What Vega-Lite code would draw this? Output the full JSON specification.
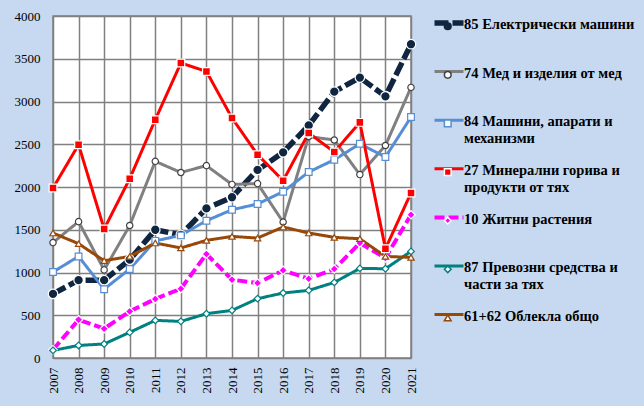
{
  "$schema": "https://vega.github.io/schema/vega-lite/v6.json",
  "width": 358,
  "height": 342,
  "autosize": "none",
  "padding": {"left": 53, "top": 16, "right": 233, "bottom": 48},
  "background": "#c6d9f1",
  "config": {
    "font": "Liberation Serif",
    "view": {"fill": "white", "stroke": "#808080", "strokeWidth": 1.5},
    "axis": {"labelFont": "Liberation Serif", "labelFontSize": 13, "labelColor": "black", "ticks": false, "grid": true, "gridColor": "#808080", "gridWidth": 1.5, "domain": false, "title": null}
  },
  "data": {
    "values": [
      {"year": 2007, "s": "85 Електрически машини", "v": 750},
      {"year": 2008, "s": "85 Електрически машини", "v": 910},
      {"year": 2009, "s": "85 Електрически машини", "v": 910},
      {"year": 2010, "s": "85 Електрически машини", "v": 1150},
      {"year": 2011, "s": "85 Електрически машини", "v": 1500},
      {"year": 2012, "s": "85 Електрически машини", "v": 1440},
      {"year": 2013, "s": "85 Електрически машини", "v": 1750},
      {"year": 2014, "s": "85 Електрически машини", "v": 1880},
      {"year": 2015, "s": "85 Електрически машини", "v": 2200},
      {"year": 2016, "s": "85 Електрически машини", "v": 2405},
      {"year": 2017, "s": "85 Електрически машини", "v": 2720},
      {"year": 2018, "s": "85 Електрически машини", "v": 3115},
      {"year": 2019, "s": "85 Електрически машини", "v": 3280},
      {"year": 2020, "s": "85 Електрически машини", "v": 3060},
      {"year": 2021, "s": "85 Електрически машини", "v": 3670},
      {"year": 2007, "s": "74 Мед и изделия от мед", "v": 1350},
      {"year": 2008, "s": "74 Мед и изделия от мед", "v": 1595},
      {"year": 2009, "s": "74 Мед и изделия от мед", "v": 1030},
      {"year": 2010, "s": "74 Мед и изделия от мед", "v": 1550},
      {"year": 2011, "s": "74 Мед и изделия от мед", "v": 2300},
      {"year": 2012, "s": "74 Мед и изделия от мед", "v": 2170},
      {"year": 2013, "s": "74 Мед и изделия от мед", "v": 2250},
      {"year": 2014, "s": "74 Мед и изделия от мед", "v": 2030},
      {"year": 2015, "s": "74 Мед и изделия от мед", "v": 2040},
      {"year": 2016, "s": "74 Мед и изделия от мед", "v": 1590},
      {"year": 2017, "s": "74 Мед и изделия от мед", "v": 2590},
      {"year": 2018, "s": "74 Мед и изделия от мед", "v": 2550},
      {"year": 2019, "s": "74 Мед и изделия от мед", "v": 2145},
      {"year": 2020, "s": "74 Мед и изделия от мед", "v": 2485},
      {"year": 2021, "s": "74 Мед и изделия от мед", "v": 3165},
      {"year": 2007, "s": "84 Машини, апарати и механизми", "v": 1006},
      {"year": 2008, "s": "84 Машини, апарати и механизми", "v": 1188},
      {"year": 2009, "s": "84 Машини, апарати и механизми", "v": 805},
      {"year": 2010, "s": "84 Машини, апарати и механизми", "v": 1041},
      {"year": 2011, "s": "84 Машини, апарати и механизми", "v": 1370},
      {"year": 2012, "s": "84 Машини, апарати и механизми", "v": 1434},
      {"year": 2013, "s": "84 Машини, апарати и механизми", "v": 1606},
      {"year": 2014, "s": "84 Машини, апарати и механизми", "v": 1734},
      {"year": 2015, "s": "84 Машини, апарати и механизми", "v": 1801},
      {"year": 2016, "s": "84 Машини, апарати и механизми", "v": 1945},
      {"year": 2017, "s": "84 Машини, апарати и механизми", "v": 2175},
      {"year": 2018, "s": "84 Машини, апарати и механизми", "v": 2319},
      {"year": 2019, "s": "84 Машини, апарати и механизми", "v": 2505},
      {"year": 2020, "s": "84 Машини, апарати и механизми", "v": 2350},
      {"year": 2021, "s": "84 Машини, апарати и механизми", "v": 2818},
      {"year": 2007, "s": "27 Минерални горива и продукти от тях", "v": 1988},
      {"year": 2008, "s": "27 Минерални горива и продукти от тях", "v": 2495},
      {"year": 2009, "s": "27 Минерални горива и продукти от тях", "v": 1509},
      {"year": 2010, "s": "27 Минерални горива и продукти от тях", "v": 2097},
      {"year": 2011, "s": "27 Минерални горива и продукти от тях", "v": 2787},
      {"year": 2012, "s": "27 Минерални горива и продукти от тях", "v": 3450},
      {"year": 2013, "s": "27 Минерални горива и продукти от тях", "v": 3352},
      {"year": 2014, "s": "27 Минерални горива и продукти от тях", "v": 2807},
      {"year": 2015, "s": "27 Минерални горива и продукти от тях", "v": 2378},
      {"year": 2016, "s": "27 Минерални горива и продукти от тях", "v": 2074},
      {"year": 2017, "s": "27 Минерални горива и продукти от тях", "v": 2632},
      {"year": 2018, "s": "27 Минерални горива и продукти от тях", "v": 2409},
      {"year": 2019, "s": "27 Минерални горива и продукти от тях", "v": 2756},
      {"year": 2020, "s": "27 Минерални горива и продукти от тях", "v": 1278},
      {"year": 2021, "s": "27 Минерални горива и продукти от тях", "v": 1930},
      {"year": 2007, "s": "10 Житни растения", "v": 97},
      {"year": 2008, "s": "10 Житни растения", "v": 448},
      {"year": 2009, "s": "10 Житни растения", "v": 343},
      {"year": 2010, "s": "10 Житни растения", "v": 545},
      {"year": 2011, "s": "10 Житни растения", "v": 690},
      {"year": 2012, "s": "10 Житни растения", "v": 810},
      {"year": 2013, "s": "10 Житни растения", "v": 1216},
      {"year": 2014, "s": "10 Житни растения", "v": 916},
      {"year": 2015, "s": "10 Житни растения", "v": 877},
      {"year": 2016, "s": "10 Житни растения", "v": 1025},
      {"year": 2017, "s": "10 Житни растения", "v": 927},
      {"year": 2018, "s": "10 Житни растения", "v": 1041},
      {"year": 2019, "s": "10 Житни растения", "v": 1345},
      {"year": 2020, "s": "10 Житни растения", "v": 1170},
      {"year": 2021, "s": "10 Житни растения", "v": 1676},
      {"year": 2007, "s": "87 Превозни средства и части за тях", "v": 89},
      {"year": 2008, "s": "87 Превозни средства и части за тях", "v": 147},
      {"year": 2009, "s": "87 Превозни средства и части за тях", "v": 164},
      {"year": 2010, "s": "87 Превозни средства и части за тях", "v": 300},
      {"year": 2011, "s": "87 Превозни средства и части за тях", "v": 440},
      {"year": 2012, "s": "87 Превозни средства и части за тях", "v": 428},
      {"year": 2013, "s": "87 Превозни средства и части за тях", "v": 518},
      {"year": 2014, "s": "87 Превозни средства и части за тях", "v": 557},
      {"year": 2015, "s": "87 Превозни средства и части за тях", "v": 694},
      {"year": 2016, "s": "87 Превозни средства и части за тях", "v": 760},
      {"year": 2017, "s": "87 Превозни средства и части за тях", "v": 791},
      {"year": 2018, "s": "87 Превозни средства и части за тях", "v": 884},
      {"year": 2019, "s": "87 Превозни средства и части за тях", "v": 1048},
      {"year": 2020, "s": "87 Превозни средства и части за тях", "v": 1044},
      {"year": 2021, "s": "87 Превозни средства и части за тях", "v": 1247},
      {"year": 2007, "s": "61+62 Облекла общо", "v": 1462},
      {"year": 2008, "s": "61+62 Облекла общо", "v": 1337},
      {"year": 2009, "s": "61+62 Облекла общо", "v": 1138},
      {"year": 2010, "s": "61+62 Облекла общо", "v": 1188},
      {"year": 2011, "s": "61+62 Облекла общо", "v": 1345},
      {"year": 2012, "s": "61+62 Облекла общо", "v": 1287},
      {"year": 2013, "s": "61+62 Облекла общо", "v": 1376},
      {"year": 2014, "s": "61+62 Облекла общо", "v": 1422},
      {"year": 2015, "s": "61+62 Облекла общо", "v": 1403},
      {"year": 2016, "s": "61+62 Облекла общо", "v": 1532},
      {"year": 2017, "s": "61+62 Облекла общо", "v": 1462},
      {"year": 2018, "s": "61+62 Облекла общо", "v": 1411},
      {"year": 2019, "s": "61+62 Облекла общо", "v": 1395},
      {"year": 2020, "s": "61+62 Облекла общо", "v": 1188},
      {"year": 2021, "s": "61+62 Облекла общо", "v": 1177}
    ]
  },
  "encoding": {
    "x": {"field": "year", "type": "ordinal", "scale": {"type": "point", "padding": 0}, "axis": {"labelAngle": -90, "labelPadding": 9}},
    "y": {"field": "v", "type": "quantitative", "scale": {"domain": [0, 4000]}, "axis": {"values": [0, 500, 1000, 1500, 2000, 2500, 3000, 3500, 4000], "format": "d", "labelPadding": 13}}
  },
  "layer": [
    {
      "mark": {"type": "line", "strokeJoin": "round"},
      "encoding": {
        "color": {
          "field": "s", "type": "nominal",
          "scale": {
            "domain": ["85 Електрически машини", "74 Мед и изделия от мед", "84 Машини, апарати и механизми", "27 Минерални горива и продукти от тях", "10 Житни растения", "87 Превозни средства и части за тях", "61+62 Облекла общо"],
            "range": ["#10253f", "#808080", "#558ed5", "#ff0000", "#ff00ff", "#008080", "#984807"]
          },
          "legend": {
            "orient": "none", "legendX": 396, "legendY": 7, "title": null,
            "symbolType": "stroke", "symbolSize": 841, "symbolStrokeWidth": 1.2,
            "labelFont": "Liberation Serif", "labelFontSize": 14.5, "labelFontWeight": "bold", "labelColor": "black",
            "labelBaseline": "top", "labelOffset": 1, "labelLimit": 400, "rowPadding": 16.6,
            "labelExpr": "[' ', ' ']",
            "encoding": {
              "labels": {"dy": {"value": -8}, "lineHeight": {"value": 17}},
              "symbols": {"strokeWidth": {"value": {"expr": "scale('strokeWidth', datum.value)"}}}
            }
          }
        },
        "strokeDash": {
          "field": "s", "type": "nominal",
          "scale": {
            "domain": ["85 Електрически машини", "74 Мед и изделия от мед", "84 Машини, апарати и механизми", "27 Минерални горива и продукти от тях", "10 Житни растения", "87 Превозни средства и части за тях", "61+62 Облекла общо"],
            "range": [[14, 4], [1, 0], [1, 0], [1, 0], [10, 4], [1, 0], [1, 0]]
          }
        },
        "strokeWidth": {
          "field": "s", "type": "nominal", "legend": null,
          "scale": {
            "type": "ordinal",
            "domain": ["61+62 Облекла общо", "87 Превозни средства и части за тях", "10 Житни растения", "27 Минерални горива и продукти от тях", "84 Машини, апарати и механизми", "74 Мед и изделия от мед", "85 Електрически машини"],
            "range": [3, 3, 4, 3, 3, 3, 5.5]
          }
        }
      }
    },
    {
      "mark": {"type": "point", "filled": true, "opacity": 1, "strokeWidth": 1.2},
      "encoding": {
        "fill": {
          "field": "s", "type": "nominal",
          "sort": ["85 Електрически машини", "74 Мед и изделия от мед", "84 Машини, апарати и механизми", "27 Минерални горива и продукти от тях", "10 Житни растения", "87 Превозни средства и части за тях", "61+62 Облекла общо"],
          "scale": {"range": ["#10253f", "white", "white", "#ff0000", "#ff00ff", "white", "white"]},
          "legend": {
            "orient": "none", "legendX": 387.5, "legendY": 3, "title": null,
            "symbolSize": 841, "symbolStrokeWidth": 1.2,
            "labelFont": "Liberation Serif", "labelFontSize": 14.5, "labelFontWeight": "bold", "labelColor": "black",
            "labelBaseline": "top", "labelOffset": 9, "labelLimit": 400, "rowPadding": 16.6,
            "labelExpr": "datum.label == '84 Машини, апарати и механизми' ? ['84 Машини, апарати и', 'механизми'] : datum.label == '27 Минерални горива и продукти от тях' ? ['27 Минерални горива и', 'продукти от тях'] : datum.label == '87 Превозни средства и части за тях' ? ['87 Превозни средства и', 'части за тях'] : [datum.label, ' ']",
            "encoding": {
              "labels": {"dy": {"value": -8}, "lineHeight": {"value": 17}},
              "symbols": {
                "size": {"value": 45},
                "strokeWidth": {"value": 1.5},
                "shape": {"value": {"expr": "scale('shape', datum.value)"}},
                "fill": {"value": {"expr": "datum.value == '85 Електрически машини' ? 'white' : scale('fill', datum.value)"}},
                "stroke": {"value": {"expr": "datum.value == '85 Електрически машини' ? '#10253f' : scale('stroke', datum.value)"}}
              }
            }
          }
        },
        "stroke": {
          "field": "s", "type": "nominal", "legend": null,
          "sort": ["85 Електрически машини", "74 Мед и изделия от мед", "84 Машини, апарати и механизми", "27 Минерални горива и продукти от тях", "10 Житни растения", "87 Превозни средства и части за тях", "61+62 Облекла общо"],
          "scale": {"range": ["white", "#404040", "#558ed5", "white", "white", "#008080", "#984807"]}
        },
        "shape": {
          "field": "s", "type": "nominal", "legend": null,
          "sort": ["85 Електрически машини", "74 Мед и изделия от мед", "84 Машини, апарати и механизми", "27 Минерални горива и продукти от тях", "10 Житни растения", "87 Превозни средства и части за тях", "61+62 Облекла общо"],
          "scale": {"range": ["circle", "circle", "square", "square", "diamond", "diamond", "triangle-up"]}
        },
        "size": {
          "field": "s", "type": "nominal", "legend": null,
          "scale": {
            "type": "ordinal",
            "domain": ["61+62 Облекла общо", "87 Превозни средства и части за тях", "10 Житни растения", "27 Минерални горива и продукти от тях", "84 Машини, апарати и механизми", "74 Мед и изделия от мед", "85 Електрически машини"],
            "range": [40, 45, 70, 60, 45, 40, 90]
          }
        }
      }
    }
  ]
}
